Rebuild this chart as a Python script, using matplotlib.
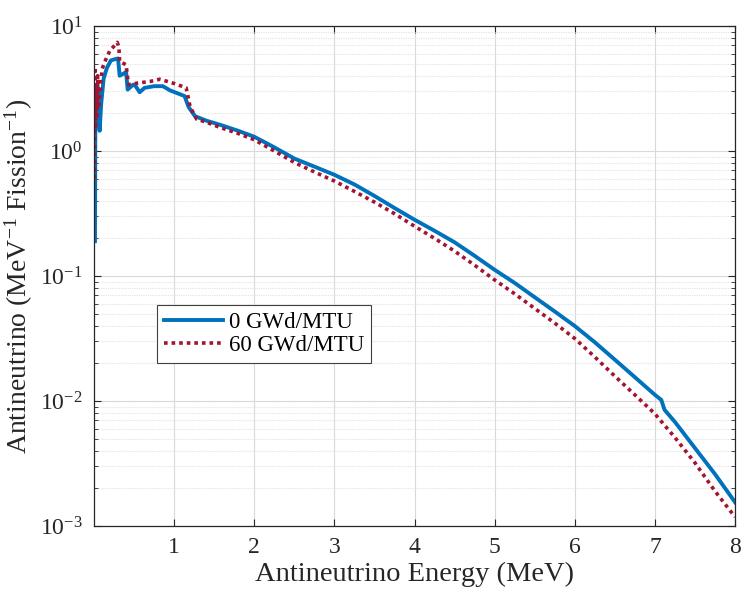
import numpy as np
import matplotlib
matplotlib.use('Agg')
import matplotlib.pyplot as plt
from matplotlib.ticker import LogLocator, NullFormatter

plt.rcParams['font.family'] = 'Liberation Serif'
plt.rcParams['mathtext.fontset'] = 'custom'
plt.rcParams['mathtext.rm'] = 'Liberation Serif'
plt.rcParams['mathtext.it'] = 'Liberation Serif:italic'

# datos
# 0 GWd/MTU
e_0 = [0.012, 0.016, 0.022, 0.03, 0.04, 0.05, 0.06, 0.07, 0.09, 0.12, 0.16, 0.21,
       0.25, 0.30, 0.32, 0.38, 0.40, 0.42, 0.49, 0.52, 0.57, 0.63, 0.75, 0.86,
       0.95, 1.01, 1.13, 1.18, 1.26, 1.40, 1.60, 1.80, 2.0, 2.25, 2.5, 2.75,
       3.0, 3.25, 3.5, 3.75, 4.0, 4.25, 4.5, 4.75, 5.0, 5.25, 5.5, 5.75, 6.0,
       6.25, 6.5, 6.75, 7.0, 7.08, 7.12, 7.25, 7.5, 7.75, 8.0]
s_0 = [0.19, 1.4, 2.2, 1.6, 3.4, 2.0, 3.0, 1.45, 2.4, 3.8, 4.6, 5.3,
       5.4, 5.5, 4.0, 4.2, 4.3, 3.1, 3.4, 3.3, 2.95, 3.2, 3.3, 3.3,
       3.05, 2.95, 2.75, 2.25, 1.9, 1.75, 1.6, 1.45, 1.30, 1.07, 0.87, 0.75,
       0.645, 0.54, 0.437, 0.35, 0.282, 0.23, 0.186, 0.145, 0.112, 0.088, 0.0676, 0.052, 0.0398,
       0.0295, 0.0214, 0.0155, 0.0112, 0.0102, 0.0085, 0.0068, 0.0042, 0.0026, 0.00155]

# 60 GWd/MTU
e_60 = [0.006, 0.010, 0.018, 0.027, 0.036, 0.045, 0.055, 0.07, 0.10, 0.13, 0.20,
        0.25, 0.29, 0.31, 0.32, 0.40, 0.43, 0.55, 0.70, 0.82, 0.95, 1.01, 1.15,
        1.20, 1.28, 1.40, 1.59, 1.80, 2.0, 2.25, 2.5, 2.75, 3.0, 3.25, 3.5,
        3.75, 4.0, 4.25, 4.5, 4.75, 5.0, 5.25, 5.5, 5.75, 6.0, 6.25, 6.5,
        6.75, 7.0, 7.25, 7.5, 7.75, 8.0]
s_60 = [0.6, 4.7, 1.5, 3.5, 1.8, 4.0, 2.2, 2.6, 4.5, 5.1, 6.4,
        6.9, 7.4, 6.8, 5.2, 4.9, 3.4, 3.5, 3.6, 3.75, 3.55, 3.45, 3.2,
        2.25, 1.8, 1.7, 1.53, 1.38, 1.23, 1.0, 0.81, 0.68, 0.575, 0.475, 0.39,
        0.315, 0.25, 0.2, 0.158, 0.122, 0.093, 0.072, 0.055, 0.042, 0.0316, 0.0225, 0.0158,
        0.0112, 0.0079, 0.0051, 0.0032, 0.0019, 0.00118]

etiquetas = ['0 GWd/MTU', '60 GWd/MTU']

fig = plt.figure(figsize=(7.42, 5.99), dpi=100)
ax = fig.add_axes([0.1267, 0.1219, 0.8639, 0.8347])

ax.plot(e_0, s_0, color='#0072BD', lw=2.8, label=etiquetas[0])
ax.plot(e_60, s_60, color='#A2142F', lw=2.6, linestyle=(0, (1, 1.1)), label=etiquetas[1])

ax.set_yscale('log')
ax.set_xlim(0, 8)
ax.set_ylim(1e-3, 1e1)
ax.set_xticks(range(1, 9))
ax.yaxis.set_minor_locator(LogLocator(base=10, subs=np.arange(2, 10)))
ax.yaxis.set_minor_formatter(NullFormatter())

ax.grid(True, which='major', color='#d9d9d9', lw=0.8)
ax.grid(True, which='minor', axis='y', color='#e3e3e3', lw=0.8, linestyle=(0, (1, 1)))
ax.set_axisbelow(True)

ax.tick_params(which='both', direction='in', top=True, right=True,
               labelsize=17, colors='#262626', labelcolor='#262626', pad=8)
ax.tick_params(which='major', length=5, width=0.8)
ax.tick_params(which='minor', length=3, width=0.6)
for s in ax.spines.values():
    s.set_color('#262626')
    s.set_linewidth(0.9)

ax.set_xlabel('Antineutrino Energy (MeV)', fontsize=20.5, color='#262626', labelpad=3)
ax.set_ylabel('Antineutrino (MeV$^{-1}$ Fission$^{-1}$)', fontsize=20, color='#262626', labelpad=4)

leg = ax.legend(loc='lower left', bbox_to_anchor=(0.098, 0.326), fontsize=16.5,
                fancybox=False, framealpha=1, edgecolor='#404040',
                handlelength=2.6, handletextpad=0.25, borderpad=0.3,
                labelspacing=0.1, borderaxespad=0)
leg.get_frame().set_linewidth(0.8)

fig.savefig('out.png', dpi=100)
